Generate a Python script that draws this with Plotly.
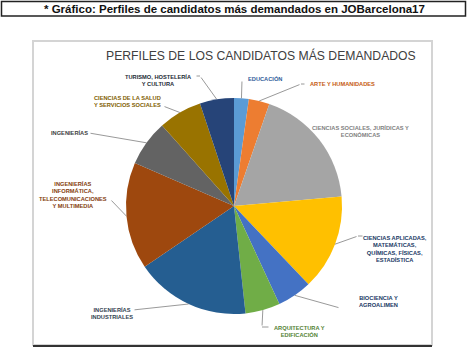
import math
import plotly.graph_objects as go

# Share of demanded candidate profiles (%), clockwise from 12 o'clock
categories = [
    "Educación",
    "Arte y Humanidades",
    "Ciencias Sociales, Jurídicas y Económicas",
    "Ciencias Aplicadas, Matemáticas, Químicas, Físicas, Estadística",
    "Biociencia y Agroalimentación",
    "Arquitectura y Edificación",
    "Ingenierías Industriales",
    "Ingenierías Informática, Telecomunicaciones y Multimedia",
    "Ingenierías",
    "Ciencias de la Salud y Servicios Sociales",
    "Turismo, Hostelería y Cultura",
]
values = [2.2, 3.1, 18.3, 14.3, 5.2, 5.2, 17.2, 16.0, 6.9, 6.5, 5.1]

label_texts = [
    "EDUCACIÓN",
    "ARTE Y HUMANIDADES",
    "CIENCIAS SOCIALES, JURÍDICAS Y<br>ECONÓMICAS",
    "CIENCIAS APLICADAS,<br>MATEMÁTICAS,<br>QUÍMICAS, FÍSICAS,<br>ESTADÍSTICA",
    "BIOCIENCIA Y<br>AGROALIMEN",
    "ARQUITECTURA Y<br>EDIFICACIÓN",
    "INGENIERÍAS<br>INDUSTRIALES",
    "INGENIERÍAS<br>INFORMÁTICA,<br>TELECOMUNICACIONES<br>Y MULTIMEDIA",
    "INGENIERÍAS",
    "CIENCIAS DE LA SALUD<br>Y SERVICIOS SOCIALES",
    "TURISMO, HOSTELERÍA<br>Y CULTURA",
]

slice_colors = ["#5B9BD5", "#ED7D31", "#A5A5A5", "#FFC000", "#4472C4", "#70AD47",
                "#255E91", "#9E480E", "#636363", "#997300", "#264478"]
label_colors = ["#2E5C9A", "#C55A11", "#7F7F7F", "#203864", "#203864", "#548235",
                "#333F50", "#843C0C", "#404040", "#7F6000", "#222A35"]

W, H = 467, 348
CX, CY, R = 234, 206, 108  # pie centre and radius in page pixels

# Label placement: text centre and leader-line path (page pixels, from label toward slice)
label_layout = [
    dict(text=(265, 78), path=[(242, 80)]),
    dict(text=(342, 84), path=[(306, 84), (301, 84)]),
    dict(text=(360, 131), path=None),
    dict(text=(395, 249), path=[(364, 236), (358, 236)]),
    dict(text=(378, 301), path=[(340, 308)]),
    dict(text=(299, 331), path=[(270, 327), (262, 327)]),
    dict(text=(112, 313), path=[(133, 310)]),
    dict(text=(73, 195), path=[(110, 199)]),
    dict(text=(69, 132), path=[(89, 133)]),
    dict(text=(127, 101), path=[(163, 106)]),
    dict(text=(158, 80), path=[(195, 76), (200, 76)]),
]


def px(x):
    return x / W


def py(y):
    return 1 - y / H


fig = go.Figure(go.Pie(
    labels=categories,
    values=values,
    sort=False,
    direction="clockwise",
    rotation=0,
    marker=dict(colors=slice_colors, line=dict(width=0)),
    textinfo="none",
    hoverinfo="label+percent",
    showlegend=False,
    domain=dict(x=[px(CX - R), px(CX + R)], y=[py(CY + R), py(CY - R)]),
))

annotations = []
total = sum(values)
cum = 0.0
for val, txt, col, lay in zip(values, label_texts, label_colors, label_layout):
    mid = (cum + val / 2) / total * 2 * math.pi
    cum += val
    hx = CX + R * math.sin(mid)
    hy = CY - R * math.cos(mid)
    annotations.append(dict(
        x=px(lay["text"][0]), y=py(lay["text"][1]), xref="paper", yref="paper",
        xanchor="center", yanchor="middle",
        text=txt, showarrow=False, align="center",
        font=dict(family="Liberation Sans", size=5.7, color=col, weight="bold"),
    ))
    if lay["path"]:
        pts = list(lay["path"]) + [(hx, hy)]
        for (x0, y0), (x1, y1) in zip(pts[:-1], pts[1:]):
            annotations.append(dict(
                x=px(x1), y=py(y1), xref="paper", yref="paper",
                ax=x0 - x1, ay=y0 - y1,
                text="", showarrow=True, arrowhead=0, arrowwidth=0.8,
                arrowcolor="#7F7F7F", standoff=0, startstandoff=0,
            ))

# Header caption and chart title
annotations.append(dict(
    x=px(234.5), y=py(8.5), xref="paper", yref="paper", showarrow=False,
    xanchor="center", yanchor="middle",
    text="* Gráfico: Perfiles de candidatos más demandados en JOBarcelona17",
    font=dict(family="Liberation Sans", size=11.5, color="#111111", weight="bold"),
))
annotations.append(dict(
    x=px(261), y=py(55), xref="paper", yref="paper", showarrow=False,
    xanchor="center", yanchor="middle",
    text="PERFILES DE LOS CANDIDATOS MÁS DEMANDADOS",
    font=dict(family="Liberation Sans", size=12.2, color="#404040"),
))

shapes = [
    dict(type="rect", xref="paper", yref="paper", x0=px(1.5), x1=px(465.5),
         y0=py(16), y1=py(1.5), line=dict(color="#222222", width=1.5)),
    dict(type="rect", xref="paper", yref="paper", x0=px(33), x1=px(432),
         y0=py(345), y1=py(41), line=dict(color="#D4D4D4", width=2)),
    dict(type="line", xref="paper", yref="paper", x0=px(33), x1=px(432),
         y0=py(346), y1=py(346), line=dict(color="#333333", width=2)),
]

fig.update_layout(
    width=W, height=H,
    margin=dict(l=0, r=0, t=0, b=0),
    paper_bgcolor="white",
    plot_bgcolor="white",
    annotations=annotations,
    shapes=shapes,
)

fig.write_html("out.html")
